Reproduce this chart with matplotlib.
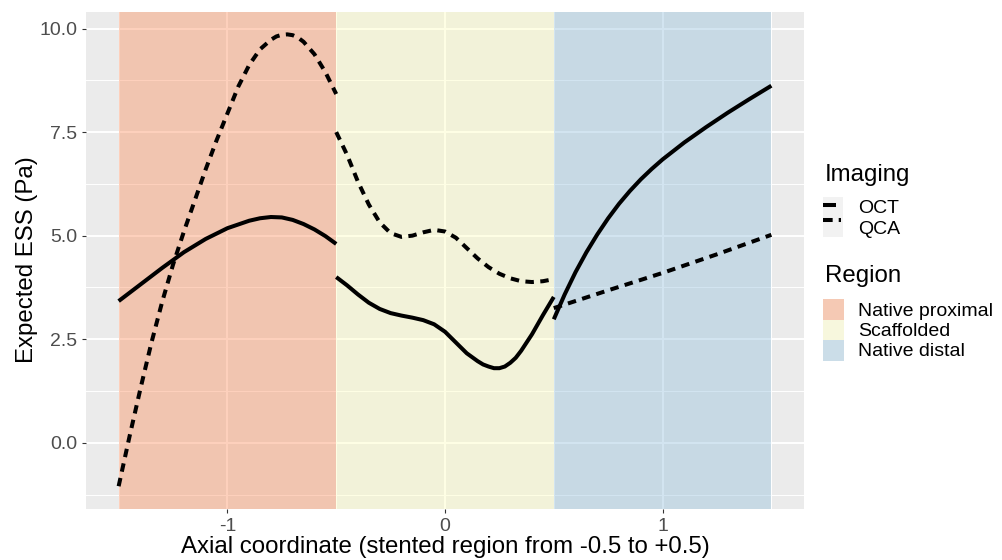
import matplotlib
matplotlib.use("Agg")
import matplotlib.pyplot as plt
from matplotlib.lines import Line2D
from matplotlib.patches import Rectangle

plt.rcParams['font.family'] = ['Liberation Sans', 'DejaVu Sans']

# ---------------- data ----------------
regions = ["Native proximal", "Scaffolded", "Native distal"]
region_start = [-1.5, -0.5, 0.5]
region_end = [-0.5, 0.5, 1.5]

# OCT (solid)
oct_prox_x = [-1.5, -1.4, -1.3, -1.2, -1.1, -1.0, -0.9, -0.85, -0.8, -0.75, -0.7,
              -0.65, -0.6, -0.55, -0.5]
oct_prox_y = [3.42, 3.82, 4.22, 4.60, 4.92, 5.18, 5.36, 5.42, 5.45, 5.44, 5.38,
              5.28, 5.15, 4.99, 4.80]
oct_scaf_x = [-0.5, -0.45, -0.4, -0.35, -0.3, -0.25, -0.2, -0.15, -0.1, -0.05, 0.0,
              0.05, 0.1, 0.15, 0.175, 0.2, 0.225, 0.25, 0.275, 0.3, 0.325, 0.35,
              0.4, 0.45, 0.5]
oct_scaf_y = [4.00, 3.80, 3.58, 3.38, 3.23, 3.13, 3.07, 3.02, 2.96, 2.86, 2.68,
              2.42, 2.16, 1.97, 1.89, 1.84, 1.80, 1.80, 1.84, 1.93, 2.05, 2.22,
              2.62, 3.08, 3.52]
oct_dist_x = [0.5, 0.55, 0.6, 0.65, 0.7, 0.75, 0.8, 0.85, 0.9, 0.95, 1.0,
              1.1, 1.2, 1.3, 1.4, 1.5]
oct_dist_y = [2.98, 3.58, 4.12, 4.60, 5.03, 5.42, 5.77, 6.08, 6.36, 6.61, 6.84,
              7.25, 7.62, 7.97, 8.30, 8.62]

# QCA (dashed)
qca_prox_x = [-1.5, -1.45, -1.4, -1.35, -1.3, -1.25, -1.2, -1.15, -1.1, -1.05, -1.0,
              -0.95, -0.9, -0.85, -0.8, -0.775, -0.75, -0.725, -0.7, -0.675, -0.65,
              -0.6, -0.55, -0.5]
qca_prox_y = [-1.05, 0.15, 1.30, 2.40, 3.40, 4.30, 5.10, 5.85, 6.60, 7.30, 7.95,
              8.60, 9.12, 9.50, 9.73, 9.81, 9.85, 9.86, 9.84, 9.78, 9.68,
              9.38, 8.95, 8.42]
qca_scaf_x = [-0.5, -0.45, -0.4, -0.35, -0.3, -0.25, -0.2, -0.15, -0.1, -0.05, 0.0,
              0.05, 0.1, 0.15, 0.2, 0.25, 0.3, 0.35, 0.4, 0.45, 0.5]
qca_scaf_y = [7.50, 6.95, 6.30, 5.75, 5.32, 5.06, 4.97, 5.00, 5.08, 5.14, 5.10,
              4.95, 4.70, 4.45, 4.24, 4.08, 3.97, 3.90, 3.88, 3.90, 3.95]
qca_dist_x = [0.5, 0.75, 1.0, 1.25, 1.5]
qca_dist_y = [3.25, 3.68, 4.10, 4.55, 5.02]

x_ticks = [-1, 0, 1]
x_ticklabels = ["-1", "0", "1"]
y_ticks = [0.0, 2.5, 5.0, 7.5, 10.0]
y_ticklabels = ["0.0", "2.5", "5.0", "7.5", "10.0"]

imaging = ["OCT", "QCA"]

# ---------------- style ----------------
region_colors = ["#FC8D59", "#FFFFBF", "#91BFDB"]
region_alpha = 0.4
panel_bg = "#EBEBEB"
LW = 2.9
DASH = (2.1, 1.6)

W, H = 1003, 560
fig = plt.figure(figsize=(W / 100, H / 100), dpi=100)
ax = fig.add_axes([86 / W, (H - 509) / H, (804 - 86) / W, (509 - 12) / H])
ax.set_facecolor(panel_bg)
for s in ax.spines.values():
    s.set_visible(False)

ax.set_xlim(-1.65, 1.65)
ax.set_ylim(-1.60, 10.40)

# grid
for yv in [-1.25, 1.25, 3.75, 6.25, 8.75]:
    ax.axhline(yv, color="white", lw=0.7, zorder=0.5)
for yv in y_ticks:
    ax.axhline(yv, color="white", lw=1.4, zorder=0.6)
for xv in [-1.5, -0.5, 0.5, 1.5]:
    ax.axvline(xv, color="white", lw=0.7, zorder=0.5)
for xv in x_ticks:
    ax.axvline(xv, color="white", lw=1.4, zorder=0.6)

for s0, s1, c in zip(region_start, region_end, region_colors):
    ax.axvspan(s0, s1, color=c, alpha=region_alpha, lw=0, zorder=1)

for xs, ys in [(oct_prox_x, oct_prox_y), (oct_scaf_x, oct_scaf_y), (oct_dist_x, oct_dist_y)]:
    ax.plot(xs, ys, color="black", lw=LW, solid_capstyle="butt",
            solid_joinstyle="round", zorder=3)
for xs, ys in [(qca_prox_x, qca_prox_y), (qca_scaf_x, qca_scaf_y), (qca_dist_x, qca_dist_y)]:
    ax.plot(xs, ys, color="black", lw=LW, dashes=DASH, dash_capstyle="butt",
            dash_joinstyle="round", zorder=3)

ax.set_xticks(x_ticks)
ax.set_xticklabels(x_ticklabels)
ax.set_yticks(y_ticks)
ax.set_yticklabels(y_ticklabels)
ax.tick_params(axis="both", length=3.0, width=0.8, color="#333333",
               labelcolor="#4D4D4D", labelsize=14, pad=3.3)

fig.text(445 / W, (H - 553) / H, "Axial coordinate (stented region from -0.5 to +0.5)",
         ha="center", va="baseline", fontsize=17.3, color="black")
fig.text(27 / W, (H - 260) / H, "Expected ESS (Pa)", rotation=90,
         ha="center", va="center", fontsize=17.3, color="black")

# ---------------- legend ----------------
def fx(px):
    return px / W

def fy(py):
    return (H - py) / H

fig.text(fx(825), fy(181), "Imaging", fontsize=17.3, va="baseline", ha="left")
fig.patches.append(Rectangle((fx(823), fy(237)), fx(843) - fx(823), fy(197) - fy(237),
                             transform=fig.transFigure, facecolor="#F2F2F2", lw=0))
fig.lines.append(Line2D([fx(823), fx(836)], [fy(205), fy(205)], transform=fig.transFigure,
                        color="black", lw=LW, solid_capstyle="butt"))
fig.lines.append(Line2D([fx(823), fx(841.5)], [fy(220), fy(220)], transform=fig.transFigure,
                        color="black", lw=LW, dashes=(2.4, 1.5), dash_capstyle="butt"))
for lab, by in zip(imaging, [213, 234]):
    fig.text(fx(858), fy(by), lab, fontsize=14, va="baseline", ha="left")

fig.text(fx(825), fy(282), "Region", fontsize=17.3, va="baseline", ha="left")
sw_top = [299, 319.5, 340]
for lab, c, t, by in zip(regions, region_colors, sw_top, [316, 336, 356]):
    fig.patches.append(Rectangle((fx(823), fy(t + 20.5)), fx(844) - fx(823), fy(t) - fy(t + 20.5),
                                 transform=fig.transFigure, facecolor="#F2F2F2", lw=0))
    fig.patches.append(Rectangle((fx(823), fy(t + 20.5)), fx(844) - fx(823), fy(t) - fy(t + 20.5),
                                 transform=fig.transFigure, facecolor=c, alpha=region_alpha, lw=0))
    fig.text(fx(858), fy(by), lab, fontsize=14, va="baseline", ha="left")

fig.savefig("out.png", dpi=100)
